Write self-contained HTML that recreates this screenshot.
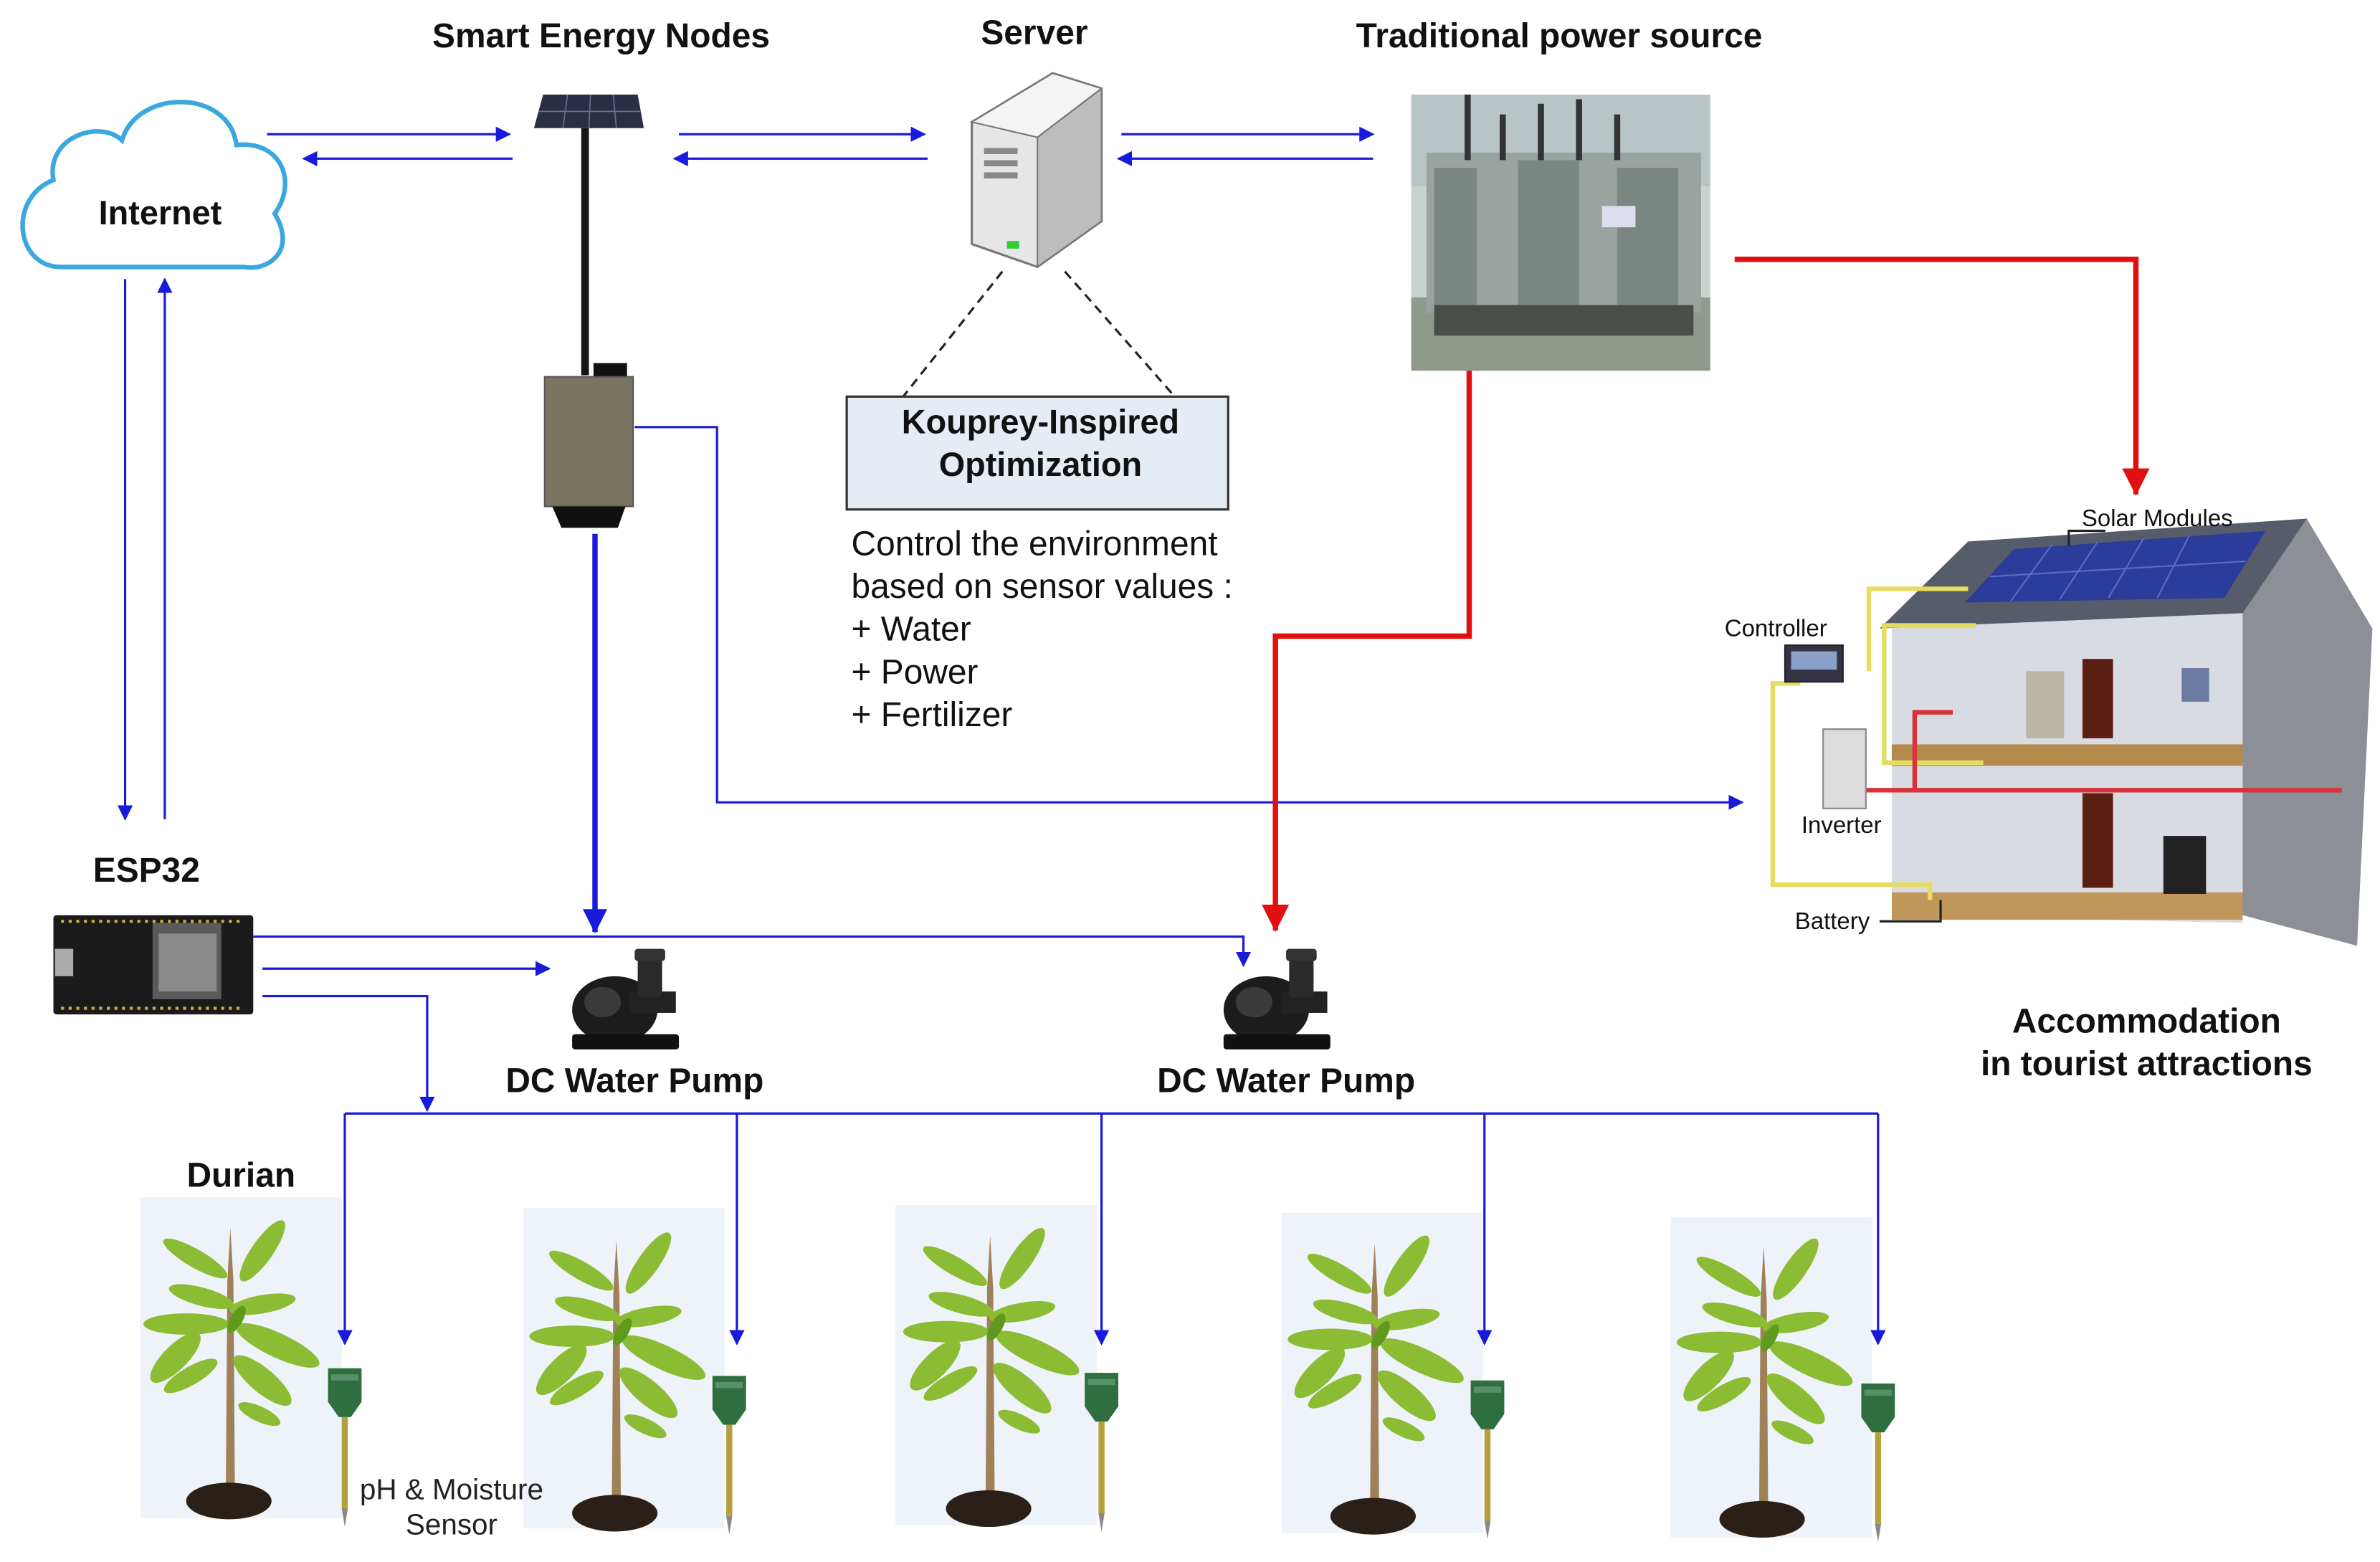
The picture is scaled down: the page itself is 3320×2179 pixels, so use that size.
<!DOCTYPE html>
<html><head><meta charset="utf-8"><style>
html,body{margin:0;padding:0;background:#fff;}
svg{display:block;}
text{font-family:"Liberation Sans",Arial,sans-serif;}
</style></head><body>
<svg width="3320" height="2179" viewBox="0 0 1560 1024" preserveAspectRatio="none" xmlns="http://www.w3.org/2000/svg">
<defs>
<marker id="ab" markerWidth="10" markerHeight="10" refX="9" refY="5" orient="auto" markerUnits="userSpaceOnUse"><path d="M0,0 L10,5 L0,10 z" fill="#1a1adc"/></marker>
<marker id="abig" markerWidth="16" markerHeight="16" refX="15" refY="8" orient="auto" markerUnits="userSpaceOnUse"><path d="M0,0 L16,8 L0,16 z" fill="#1a1adc"/></marker>
<marker id="ar" markerWidth="18" markerHeight="18" refX="17" refY="9" orient="auto" markerUnits="userSpaceOnUse"><path d="M0,0 L18,9 L0,18 z" fill="#e01010"/></marker>
<symbol id="plant" viewBox="-70 -200 140 210" overflow="visible">
<path d="M-2,-8 L-1,-150 L1,-185 L3,-150 L4,-8 z" fill="#a08058"/>
<g fill="#8cbb34">
<ellipse cx="-22" cy="-165" rx="24" ry="6" transform="rotate(30 -22 -165)"/>
<ellipse cx="22" cy="-170" rx="24" ry="7" transform="rotate(-55 22 -170)"/>
<ellipse cx="-18" cy="-140" rx="22" ry="6" transform="rotate(15 -18 -140)"/>
<ellipse cx="22" cy="-135" rx="22" ry="6" transform="rotate(-10 22 -135)"/>
<ellipse cx="-28" cy="-122" rx="28" ry="7" transform="rotate(0 -28 -122)"/>
<ellipse cx="-35" cy="-100" rx="22" ry="8" transform="rotate(-45 -35 -100)"/>
<ellipse cx="32" cy="-108" rx="30" ry="8" transform="rotate(25 32 -108)"/>
<ellipse cx="-25" cy="-88" rx="20" ry="6" transform="rotate(-30 -25 -88)"/>
<ellipse cx="22" cy="-85" rx="24" ry="8" transform="rotate(40 22 -85)"/>
<ellipse cx="20" cy="-63" rx="15" ry="5" transform="rotate(25 20 -63)"/>
<ellipse cx="5" cy="-125" rx="10" ry="4" fill="#5f9a1e" transform="rotate(-60 5 -125)"/>
</g>
<ellipse cx="0" cy="-6" rx="28" ry="12" fill="#2a2018"/>
</symbol>
<symbol id="sensor" viewBox="-12 0 24 105" overflow="visible">
<path d="M-11,0 L11,0 L11,22 L4,32 L-4,32 L-11,22 z" fill="#2f6f3f"/>
<rect x="-9" y="4" width="18" height="4" fill="#58906a"/>
<rect x="-2" y="32" width="4" height="60" fill="#b5a040"/>
<path d="M-2,92 L2,92 L0,104 z" fill="#888"/>
</symbol>
<symbol id="pump" viewBox="0 0 80 70" overflow="visible">
<ellipse cx="30" cy="40" rx="28" ry="22" fill="#1c1c1c"/>
<rect x="40" y="28" width="30" height="14" fill="#222"/>
<rect x="45" y="2" width="16" height="30" rx="3" fill="#2a2a2a"/>
<rect x="43" y="0" width="20" height="8" rx="2" fill="#333"/>
<rect x="2" y="56" width="70" height="10" rx="2" fill="#111"/>
<ellipse cx="22" cy="35" rx="12" ry="10" fill="#3a3a3a"/>
</symbol>
</defs>

<!-- Titles -->
<g font-weight="bold" font-size="22.5" fill="#111" text-anchor="middle">
<text x="394" y="31">Smart Energy Nodes</text>
<text x="678" y="29">Server</text>
<text x="1022" y="31">Traditional power source</text>
<text x="96" y="578">ESP32</text>
<text x="416" y="716">DC Water Pump</text>
<text x="843" y="716">DC Water Pump</text>
<text x="158" y="778">Durian</text>
<text x="1407" y="677">Accommodation</text>
<text x="1407" y="705">in tourist attractions</text>
</g>

<!-- Cloud -->
<path d="M40,175 C10,175 5,130 35,118 C30,90 65,78 80,92 C90,58 150,58 155,95 C185,92 195,120 180,140 C195,165 175,178 160,175 Z" fill="#fff" stroke="#3aa8df" stroke-width="3"/>
<text x="105" y="147" font-weight="bold" font-size="22" text-anchor="middle" fill="#111">Internet</text>

<!-- Solar node -->
<polygon points="356,62 418,62 422,84 350,84" fill="#2b2f45"/>
<g stroke="#6a708a" stroke-width="0.8"><line x1="372" y1="62" x2="369" y2="84"/><line x1="387" y1="62" x2="386" y2="84"/><line x1="402" y1="62" x2="404" y2="84"/><line x1="353" y1="73" x2="420" y2="73"/></g>
<rect x="381" y="84" width="5" height="162" fill="#151515"/>
<rect x="389" y="238" width="22" height="10" fill="#111"/>
<rect x="357" y="247" width="58" height="85" fill="#7a7560"/>
<rect x="357" y="247" width="58" height="85" fill="none" stroke="#555" stroke-width="1"/>
<path d="M362,332 L410,332 L405,346 L368,346 z" fill="#111"/>

<!-- Server -->
<polygon points="637,80 690,48 722,58 722,145 680,175 637,160" fill="#e6e6e6" stroke="#777" stroke-width="1.5"/>
<polygon points="680,90 722,58 722,145 680,175" fill="#bdbdbd" stroke="#777" stroke-width="1"/>
<polygon points="637,80 690,48 722,58 680,90" fill="#f4f4f4" stroke="#777" stroke-width="1"/>
<g fill="#888"><rect x="645" y="97" width="22" height="4"/><rect x="645" y="105" width="22" height="4"/><rect x="645" y="113" width="22" height="4"/></g>
<rect x="660" y="158" width="8" height="5" fill="#3c3"/>
<line x1="657" y1="178" x2="592" y2="260" stroke="#222" stroke-width="1.5" stroke-dasharray="6,4"/>
<line x1="698" y1="178" x2="770" y2="260" stroke="#222" stroke-width="1.5" stroke-dasharray="6,4"/>
<rect x="555" y="260" width="250" height="74" fill="#e6ecf4" stroke="#333" stroke-width="1.5"/>
<text x="682" y="284" font-weight="bold" font-size="22" text-anchor="middle" fill="#111">Kouprey-Inspired</text>
<text x="682" y="312" font-weight="bold" font-size="22" text-anchor="middle" fill="#111">Optimization</text>
<g font-size="22.5" fill="#111">
<text x="558" y="364">Control the environment</text>
<text x="558" y="392">based on sensor values :</text>
<text x="558" y="420">+ Water</text>
<text x="558" y="448">+ Power</text>
<text x="558" y="476">+ Fertilizer</text>
</g>

<!-- Transformer -->
<rect x="925" y="62" width="196" height="181" fill="#c9d2cc"/>
<rect x="925" y="62" width="196" height="60" fill="#b8c4c6"/>
<rect x="925" y="195" width="196" height="48" fill="#8f9a8c"/>
<rect x="935" y="100" width="180" height="105" fill="#9aa3a0"/>
<g fill="#7b8683"><rect x="940" y="110" width="28" height="90"/><rect x="995" y="105" width="40" height="95"/><rect x="1060" y="110" width="40" height="90"/></g>
<g stroke="#333" stroke-width="4"><line x1="962" y1="62" x2="962" y2="105"/><line x1="985" y1="75" x2="985" y2="105"/><line x1="1010" y1="68" x2="1010" y2="105"/><line x1="1035" y1="65" x2="1035" y2="105"/><line x1="1060" y1="75" x2="1060" y2="105"/></g>
<rect x="1050" y="135" width="22" height="14" fill="#dde"/>
<rect x="940" y="200" width="170" height="20" fill="#4a4e48"/>

<!-- House -->
<polygon points="1470,350 1512,340 1555,412 1545,620 1470,600" fill="#8c8f96"/>
<polygon points="1240,410 1470,400 1470,605 1240,600" fill="#d9dbe3"/>
<polygon points="1232,412 1290,355 1512,340 1470,402" fill="#575c6a"/>
<polygon points="1288,395 1320,360 1485,348 1458,392" fill="#2c3c9a"/>
<g stroke="#5c6cc0" stroke-width="1"><line x1="1304" y1="378" x2="1472" y2="368"/><line x1="1345" y1="357" x2="1318" y2="394"/><line x1="1375" y1="355" x2="1350" y2="393"/><line x1="1405" y1="353" x2="1382" y2="392"/><line x1="1435" y1="351" x2="1414" y2="392"/></g>
<rect x="1240" y="488" width="230" height="14" fill="#b48a4a"/>
<rect x="1240" y="585" width="230" height="18" fill="#c0975a"/>
<rect x="1365" y="432" width="20" height="52" fill="#5a1e12"/>
<rect x="1365" y="520" width="20" height="62" fill="#5a1e12"/>
<rect x="1418" y="548" width="28" height="38" fill="#222"/>
<rect x="1328" y="440" width="25" height="44" fill="#bcb8a8"/>
<rect x="1430" y="438" width="18" height="22" fill="#6a7aa0"/>
<g fill="none" stroke-width="3">
<polyline points="1290,386 1225,386 1225,440" stroke="#e6dc60"/>
<polyline points="1295,410 1235,410 1235,500 1300,500" stroke="#e6dc60"/>
<polyline points="1180,448 1162,448 1162,580 1265,580 1265,590" stroke="#e6dc60"/>
<polyline points="1215,518 1535,518" stroke="#d8323a"/>
<polyline points="1255,518 1255,467 1280,467" stroke="#d8323a"/>
</g>
<rect x="1170" y="423" width="38" height="24" fill="#334" stroke="#222"/>
<rect x="1174" y="427" width="30" height="12" fill="#8aa0c8"/>
<rect x="1195" y="478" width="28" height="52" fill="#dcdcdc" stroke="#888"/>
<polyline points="1272,590 1272,604 1232,604" fill="none" stroke="#222" stroke-width="1.5"/>
<polyline points="1356,358 1356,348 1380,348" fill="none" stroke="#222" stroke-width="1.5"/>
<g font-size="15.5" fill="#111" text-anchor="middle">
<text x="1414" y="345">Solar Modules</text>
<text x="1164" y="417">Controller</text>
<text x="1207" y="546">Inverter</text>
<text x="1201" y="609">Battery</text>
</g>

<!-- ESP32 board -->
<rect x="35" y="600" width="131" height="65" fill="#1b1b1b" rx="2"/>
<rect x="100" y="605" width="45" height="50" fill="#5a5a5a"/>
<rect x="104" y="612" width="38" height="38" fill="#8a8a8a"/>
<rect x="36" y="622" width="12" height="18" fill="#aaa"/>
<g stroke="#c8a84a" stroke-width="2" stroke-dasharray="2,3"><line x1="40" y1="604" x2="160" y2="604"/><line x1="40" y1="661" x2="160" y2="661"/></g>

<!-- Pumps -->
<use href="#pump" x="373" y="622" width="80" height="70"/>
<use href="#pump" x="800" y="622" width="80" height="70"/>

<!-- Plants -->
<g fill="#edf3f8">
<rect x="92" y="785" width="132" height="210"/><rect x="343" y="792" width="132" height="210"/><rect x="587" y="790" width="132" height="210"/><rect x="840" y="795" width="132" height="210"/><rect x="1095" y="798" width="132" height="210"/>
</g>
<use href="#plant" x="80" y="790" width="140" height="210"/>
<use href="#plant" x="333" y="798" width="140" height="210"/>
<use href="#plant" x="578" y="795" width="140" height="210"/>
<use href="#plant" x="830" y="800" width="140" height="210"/>
<use href="#plant" x="1085" y="802" width="140" height="210"/>
<use href="#sensor" x="214" y="897" width="24" height="105"/>
<use href="#sensor" x="466" y="902" width="24" height="105"/>
<use href="#sensor" x="710" y="900" width="24" height="105"/>
<use href="#sensor" x="963" y="905" width="24" height="105"/>
<use href="#sensor" x="1219" y="907" width="24" height="105"/>
<text x="296" y="983" font-size="19" text-anchor="middle" fill="#222">pH &amp; Moisture</text>
<text x="296" y="1006" font-size="19" text-anchor="middle" fill="#222">Sensor</text>

<!-- Blue connectors -->
<g stroke="#1a1adc" stroke-width="1.5" fill="none">
<line x1="175" y1="88" x2="334" y2="88" marker-end="url(#ab)"/>
<line x1="336" y1="104" x2="199" y2="104" marker-end="url(#ab)"/>
<line x1="445" y1="88" x2="606" y2="88" marker-end="url(#ab)"/>
<line x1="608" y1="104" x2="442" y2="104" marker-end="url(#ab)"/>
<line x1="735" y1="88" x2="900" y2="88" marker-end="url(#ab)"/>
<line x1="900" y1="104" x2="733" y2="104" marker-end="url(#ab)"/>
<line x1="82" y1="183" x2="82" y2="537" marker-end="url(#ab)"/>
<line x1="108" y1="537" x2="108" y2="183" marker-end="url(#ab)"/>
<polyline points="416,280 470,280 470,526 1142,526" marker-end="url(#ab)"/>
<polyline points="166,614 815,614 815,633" marker-end="url(#ab)"/>
<line x1="172" y1="635" x2="360" y2="635" marker-end="url(#ab)"/>
<polyline points="172,653 280,653 280,728" marker-end="url(#ab)"/>
<line x1="226" y1="730" x2="1231" y2="730"/>
<line x1="226" y1="730" x2="226" y2="881" marker-end="url(#ab)"/>
<line x1="483" y1="730" x2="483" y2="881" marker-end="url(#ab)"/>
<line x1="722" y1="730" x2="722" y2="881" marker-end="url(#ab)"/>
<line x1="973" y1="730" x2="973" y2="881" marker-end="url(#ab)"/>
<line x1="1231" y1="730" x2="1231" y2="881" marker-end="url(#ab)"/>
<line x1="390" y1="350" x2="390" y2="611" stroke-width="3.5" marker-end="url(#abig)"/>
</g>

<!-- Red connectors -->
<g stroke="#e01010" stroke-width="3.5" fill="none">
<polyline points="1137,170 1400,170 1400,324" marker-end="url(#ar)"/>
<polyline points="963,243 963,417 836,417 836,610" marker-end="url(#ar)"/>
</g>
</svg>
</body></html>
